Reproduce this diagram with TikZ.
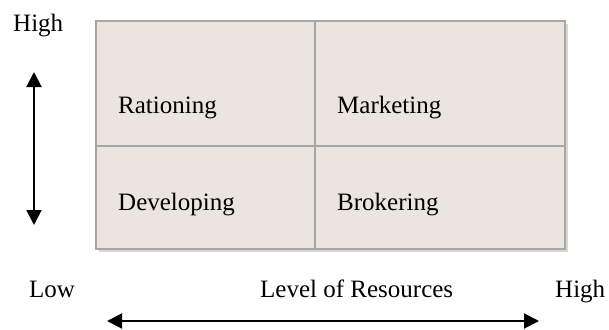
\documentclass[tikz,border=0pt]{standalone}
\usepackage{fontspec}
\setmainfont{Liberation Serif}
\usetikzlibrary{arrows.meta}
\definecolor{cellfill}{RGB}{236,228,223}
\definecolor{cellline}{RGB}{166,166,166}
\definecolor{cellshade}{RGB}{215,215,215}
\begin{document}
\begin{tikzpicture}[x=1pt,y=-1pt,
  lbl/.style={inner sep=0pt,anchor=base west,font=\fontsize{25}{29}\selectfont},
  cell/.style={draw=cellline,line width=2pt,fill=cellfill},
  axis/.style={line width=2pt,{Triangle[length=15pt,width=15pt]}-{Triangle[length=15pt,width=15pt]}}]
\useasboundingbox (0,0) rectangle (609,329);
% light shading along the lower and right edges of the grid
\fill[cellshade] (99,24) rectangle (568,252);
% the four quadrants
\draw[cell] (96,21) rectangle (315,146);
\draw[cell] (315,21) rectangle (565,146);
\draw[cell] (96,146) rectangle (315,249);
\draw[cell] (315,146) rectangle (565,249);
% quadrant labels
\node[lbl] (rat) at (118,113) {Rationing};
\node[lbl] (mkt) at (337,113) {Marketing};
\node[lbl] (dev) at (118,210) {Developing};
\node[lbl] (bro) at (337,210) {Brokering};
% axis labels
\node[lbl] (hiv) at (13,32) {High};
\node[lbl] (low) at (29,297) {Low};
\node[lbl] (lev) at (260,297) {Level of Resources};
\node[lbl] (hih) at (555,297) {High};
% axis arrows
\coordinate (vtop) at (34,72);
\coordinate (vbot) at (34,225);
\coordinate (hl) at (107,321);
\coordinate (hr) at (539,321);
\draw[axis] (vtop) -- (vbot);
\draw[axis] (hl) -- (hr);
\end{tikzpicture}
\end{document}
